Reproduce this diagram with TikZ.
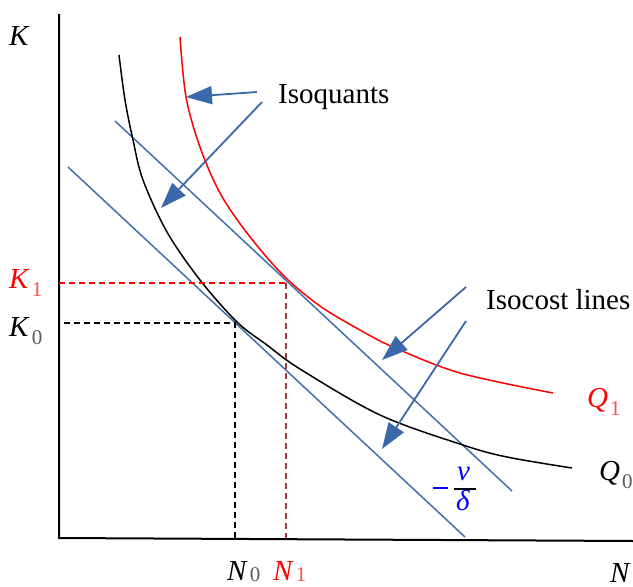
\documentclass[tikz,border=0pt]{standalone}
\usepackage{fontspec}
\setmainfont{Liberation Serif}
\usetikzlibrary{arrows.meta}
\definecolor{lineblue}{RGB}{66,110,170}
\definecolor{arrowblue}{RGB}{58,104,168}
\definecolor{darkred}{RGB}{160,60,60}
\definecolor{subgray}{RGB}{90,90,90}
\newcommand\subdig[3]{\kern2pt\raisebox{#3}{\fontsize{21}{21}\selectfont\color{#1}#2}}
\tikzset{
  axis/.style={line width=2pt,black},
  isoq/.style={line width=1.5pt},
  isocost/.style={line width=1.5pt,lineblue},
  pointer/.style={line width=1.8pt,arrowblue,-{Triangle[length=26pt,width=18pt]}},
  guide/.style={line width=1.4pt,dash pattern=on 6pt off 4pt},
  lab/.style={anchor=base west,inner sep=0pt,font=\fontsize{29}{29}\selectfont},
}
\begin{document}
\begin{tikzpicture}[x=1pt,y=-1pt]
\useasboundingbox (0,0) rectangle (633,587);
% axes
\coordinate (ytop) at (59,14);
\coordinate (org) at (59,538);
\coordinate (xend) at (633,541);
\draw[axis] (ytop) -- (org) -- (xend);
% isocost lines
\coordinate (c1a) at (115,121); \coordinate (c1b) at (512,491);
\coordinate (c0a) at (68,167);  \coordinate (c0b) at (465,537);
\draw[isocost] (c1a) -- (c1b);
\draw[isocost] (c0a) -- (c0b);
% isoquants
\draw[isoq,red] plot[smooth,tension=0.55] coordinates {(180,37) (186,97) (200,147) (220,193) (247,233) (283,275) (320,306) (360,330) (393,347) (460,373) (553,393)};
\draw[isoq,black] plot[smooth,tension=0.55] coordinates {(119,55) (125,100) (133,140) (143,180) (167,232) (200,280) (237,322) (267,345) (300,369) (380,415) (463,445) (507,457) (572,468)};
% guides
\coordinate (k1l) at (59,283); \coordinate (p1) at (286,283); \coordinate (n1b) at (286,538);
\coordinate (k0l) at (64,323); \coordinate (p0) at (235,323); \coordinate (n0b) at (235,538);
\draw[guide,red] (k1l) -- (p1);
\draw[guide,darkred] (p1) -- (n1b);
\draw[guide,black] (k0l) -- (p0) -- (n0b);
% labels
\node[lab] (K) at (9,45) {\textit{K}};
\node[lab,red] (K1) at (9,288) {\textit{K}\subdig{red!70}{1}{-0.3em}};
\node[lab] (K0) at (9,336) {\textit{K}\subdig{subgray}{0}{-0.3em}};
\node[lab] (N0) at (227,580) {\textit{N}\subdig{subgray}{0}{-0.05em}};
\node[lab,red] (N1) at (273,580) {\textit{N}\subdig{red!70}{1}{-0.05em}};
\node[lab] (N) at (610,582) {\textit{N}};
\node[lab,red] (Q1) at (587,407) {\textit{Q}\subdig{red!70}{1}{-0.3em}};
\node[lab] (Q0) at (599,480) {\textit{Q}\subdig{subgray}{0}{-0.3em}};
\node[lab] (isoqlab) at (278,103) {Isoquants};
\node[lab] (isocostlab) at (486,309) {Isocost lines};
% slope label
\node[lab,blue] (vlab) at (457,480) {\textit{v}};
\node[lab,blue] (dlab) at (456,510) {\textit{δ}};
\coordinate (bar1) at (454,489); \coordinate (bar2) at (476,489);
\coordinate (min1) at (433,488); \coordinate (min2) at (448,488);
\draw[line width=1.5pt,black] (bar1) -- (bar2);
\draw[line width=1.3pt,blue] (min1) -- (min2);
% pointers
\coordinate (a1s) at (257,92);  \coordinate (a1e) at (186,97);
\coordinate (a2s) at (262,102); \coordinate (a2e) at (161,208);
\coordinate (a3s) at (466,287); \coordinate (a3e) at (382,360);
\coordinate (a4s) at (466,321); \coordinate (a4e) at (382,449);
\draw[pointer] (a1s) -- (a1e);
\draw[pointer] (a2s) -- (a2e);
\draw[pointer] (a3s) -- (a3e);
\draw[pointer] (a4s) -- (a4e);
\end{tikzpicture}
\end{document}
